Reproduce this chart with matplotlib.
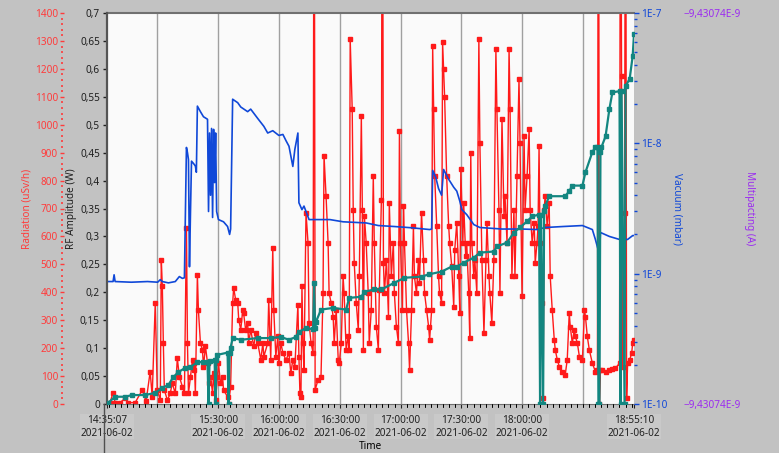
import numpy as np
import pandas as pd
import matplotlib
matplotlib.use('Agg')
import matplotlib.pyplot as plt
import matplotlib.dates as mdates
from matplotlib.ticker import FixedLocator, MultipleLocator, FuncFormatter, LogLocator, NullFormatter

plt.rcParams['font.family'] = ['Noto Sans', 'DejaVu Sans']
plt.rcParams['font.size'] = 7.2

start = pd.Timestamp('2021-06-02 14:35:07')
end = pd.Timestamp('2021-06-02 18:55:10')

# (minutes since start, uSv/h); values above 1400 run off the scale
radiation = [
    (0.0, 0), (1.5, 5), (3.0, 41), (4.0, 5), (6.4, 5), (8.9, 20), (10.4, 5), (13.9, 5), (17.4, 50), (19.3, 10),
    (21.3, 116), (22.3, 26), (23.8, 362), (24.8, 50), (26.3, 14), (26.8, 517), (27.3, 421), (27.8, 218), (28.3, 50), (29.8, 14),
    (31.2, 38), (32.2, 74), (33.7, 38), (34.7, 164), (35.7, 98), (37.2, 62), (38.2, 38), (39.2, 631), (39.7, 218), (40.2, 38),
    (41.2, 98), (42.2, 158), (42.7, 122), (43.1, 146), (43.6, 38), (44.6, 463), (45.1, 337), (46.1, 218), (47.1, 194), (47.6, 134),
    (48.6, 206), (49.6, 146), (50.1, 74), (51.1, 98), (52.1, 38), (52.6, 110), (53.6, 14), (54.5, 98), (55.0, 146), (56.0, 74),
    (57.0, 98), (57.5, 50), (59.5, 26), (60.0, 0), (61.0, 62), (62.0, 362), (62.5, 415), (63.5, 373), (64.5, 362), (65.0, 302),
    (66.0, 266), (67.0, 337), (67.4, 326), (68.4, 266), (69.4, 290), (69.9, 218), (70.9, 266), (72.4, 206), (73.4, 254), (74.4, 218),
    (75.9, 158), (76.9, 218), (77.4, 170), (79.3, 218), (79.8, 373), (80.8, 158), (81.8, 559), (82.3, 337), (83.3, 170), (84.3, 242),
    (84.8, 146), (85.8, 218), (86.8, 182), (88.3, 158), (89.8, 182), (90.7, 110), (91.7, 158), (92.7, 134), (94.2, 355), (94.7, 170),
    (95.2, 38), (95.7, 26), (96.2, 421), (96.7, 218), (97.2, 122), (98.2, 685), (99.2, 577), (99.7, 290), (100.7, 218), (101.7, 182),
    (102.2, 2500), (102.7, 50), (104.1, 86), (105.6, 98), (106.6, 397), (107.1, 888), (108.1, 744), (109.1, 577), (109.6, 397), (110.6, 362),
    (111.6, 313), (112.1, 218), (113.1, 337), (114.1, 158), (114.6, 146), (115.6, 218), (116.5, 457), (117.0, 397), (118.0, 194), (119.0, 242),
    (119.5, 194), (120.0, 1307), (121.0, 1055), (121.5, 696), (122.0, 505), (123.0, 362), (124.0, 266), (124.5, 457), (125.5, 1031), (126.0, 696),
    (126.5, 194), (127.0, 672), (127.9, 577), (128.9, 397), (129.4, 218), (130.4, 337), (131.4, 816), (131.9, 577), (132.9, 277), (133.9, 194),
    (134.4, 409), (135.4, 732), (135.9, 2500), (136.4, 505), (136.9, 397), (137.9, 517), (138.9, 313), (139.3, 720), (140.3, 457), (141.3, 577),
    (141.8, 397), (142.8, 277), (143.8, 218), (144.3, 978), (144.8, 577), (145.8, 337), (146.3, 708), (146.8, 577), (147.8, 337), (148.8, 218),
    (149.3, 122), (150.3, 337), (151.2, 637), (151.7, 457), (152.7, 397), (153.7, 517), (154.2, 433), (155.2, 685), (156.2, 517), (156.7, 397),
    (157.7, 337), (158.7, 277), (159.2, 230), (160.2, 337), (160.7, 1283), (161.2, 1055), (161.7, 816), (162.7, 637), (163.6, 457), (164.1, 397),
    (165.1, 362), (165.6, 1295), (166.1, 1199), (166.6, 1100), (167.6, 816), (168.6, 637), (169.1, 577), (170.1, 493), (171.1, 349), (171.6, 553),
    (172.6, 649), (173.6, 457), (174.1, 326), (174.6, 840), (175.6, 577), (176.0, 720), (177.0, 529), (177.5, 577), (178.5, 397), (179.0, 236),
    (179.5, 900), (180.0, 577), (181.0, 457), (181.5, 517), (182.5, 397), (183.5, 1307), (184.0, 936), (185.0, 517), (186.0, 254), (187.0, 517),
    (187.5, 649), (188.5, 457), (188.9, 397), (189.9, 290), (190.9, 517), (191.9, 1271), (192.4, 1055), (193.4, 696), (193.9, 397), (194.9, 1020),
    (195.9, 672), (196.4, 744), (197.4, 577), (198.4, 1271), (198.9, 1055), (199.8, 457), (200.8, 696), (201.3, 457), (202.3, 816), (203.3, 1163),
    (203.8, 936), (204.8, 385), (205.8, 960), (206.3, 696), (207.3, 816), (208.3, 984), (208.8, 696), (209.8, 577), (210.8, 649), (211.3, 505),
    (212.2, 577), (212.7, 637), (213.2, 924), (213.7, 577), (214.7, 362), (215.2, 20), (215.7, 696), (216.2, 744), (217.2, 637), (218.2, 720),
    (218.7, 457), (219.7, 337), (220.7, 230), (221.2, 194), (222.2, 158), (223.2, 134), (224.7, 116), (226.1, 104), (227.1, 158), (228.1, 326),
    (228.6, 277), (229.6, 218), (230.6, 266), (231.1, 242), (232.1, 218), (233.1, 170), (234.6, 158), (235.6, 337), (236.1, 313), (237.0, 242),
    (238.0, 194), (239.5, 146), (241.0, 116), (242.0, 122), (242.5, 2500), (243.0, 0), (243.5, 122), (244.5, 122), (246.0, 116), (247.9, 122),
    (249.4, 125), (250.9, 128), (252.9, 146), (253.4, 2500), (253.9, 1175), (254.4, 134), (255.4, 685), (255.9, 2500), (256.4, 20), (256.9, 146),
    (257.9, 158), (258.9, 182), (259.4, 218), (260.0, 230),
]

# (minutes since start, W)
rf_amplitude = [
    (0.0, 0.0), (0.5, 0.002), (4.0, 0.013), (8.9, 0.013), (12.4, 0.016), (18.8, 0.016), (23.8, 0.020), (27.3, 0.029),
    (30.3, 0.034), (32.7, 0.048), (35.2, 0.057), (38.7, 0.065), (41.2, 0.066), (44.6, 0.075), (47.6, 0.075), (49.6, 0.075),
    (50.1, 0.0), (50.6, 0.077), (53.1, 0.079), (53.6, 0.0), (54.0, 0.079), (54.5, 0.088), (59.5, 0.092), (60.0, 0.0),
    (60.5, 0.092), (61.0, 0.101), (62.0, 0.118), (66.0, 0.115), (74.4, 0.118), (80.8, 0.118), (85.8, 0.120), (89.8, 0.115),
    (93.2, 0.120), (94.7, 0.129), (98.2, 0.136), (101.7, 0.134), (102.2, 0.217), (102.7, 0.136), (103.1, 0.147), (105.6, 0.169),
    (111.6, 0.172), (118.0, 0.169), (119.5, 0.190), (125.5, 0.192), (127.0, 0.201), (131.9, 0.205), (135.4, 0.205), (141.8, 0.217),
    (146.8, 0.226), (155.2, 0.228), (158.7, 0.232), (165.1, 0.237), (170.1, 0.246), (172.6, 0.246), (176.0, 0.253), (181.0, 0.262),
    (184.0, 0.271), (190.9, 0.273), (192.4, 0.282), (197.4, 0.289), (200.8, 0.307), (203.8, 0.316), (207.3, 0.327), (209.8, 0.336),
    (213.2, 0.339), (213.7, 0.0), (214.2, 0.339), (215.2, 0.0), (215.7, 0.345), (216.2, 0.354), (218.2, 0.372), (226.1, 0.372),
    (228.1, 0.381), (229.6, 0.391), (234.6, 0.391), (236.1, 0.415), (239.5, 0.451), (241.0, 0.460), (242.0, 0.460), (242.5, 0.0),
    (243.0, 0.0), (243.5, 0.451), (244.0, 0.460), (246.0, 0.479), (247.9, 0.528), (249.4, 0.558), (252.9, 0.560), (253.4, 0.0),
    (253.9, 0.560), (255.4, 0.0), (255.9, 0.569), (257.9, 0.582), (259.4, 0.623), (260.05, 0.662),
]

# (minutes since start, mbar)
vacuum = [
    (0.0, 8.7e-10), (3.0, 8.7e-10), (3.5, 9.8e-10), (4.0, 8.7e-10), (12.0, 8.6e-10), (20.0, 8.7e-10), (25.0, 8.6e-10),
    (26.3, 9.0e-10), (27.3, 8.7e-10), (30.3, 8.5e-10), (33.7, 8.7e-10), (35.7, 9.5e-10), (37.2, 9.2e-10), (38.2, 9.3e-10),
    (38.7, 3.0e-9), (39.2, 9.3e-9), (39.7, 8.5e-9), (40.2, 7.5e-9), (40.7, 1.13e-9), (41.2, 3.0e-9), (41.7, 7.3e-9),
    (42.7, 7.0e-9), (43.6, 6.7e-9), (44.1, 6.0e-9), (44.6, 1.93e-8), (46.1, 1.75e-8), (47.6, 1.6e-8), (49.6, 1.53e-8),
    (50.1, 3.0e-9), (50.6, 1.2e-8), (51.1, 4.0e-9), (51.6, 1.3e-8), (52.1, 2.7e-9), (52.6, 1.28e-8), (53.1, 5.0e-9),
    (53.6, 1.2e-8), (54.1, 3.0e-9), (55.0, 2.6e-9), (57.5, 2.5e-9), (59.5, 2.3e-9), (60.5, 2.0e-9), (61.0, 2.2e-9),
    (62.0, 2.18e-8), (64.5, 2.05e-8), (66.0, 1.9e-8), (69.4, 1.75e-8), (70.9, 1.83e-8), (74.4, 1.55e-8), (77.4, 1.35e-8),
    (79.3, 1.2e-8), (81.8, 1.25e-8), (84.8, 1.15e-8), (86.8, 1.17e-8), (88.3, 1.05e-8), (89.8, 9.5e-9), (91.7, 6.65e-9),
    (92.7, 9.0e-9), (94.2, 1.2e-8), (94.7, 3.5e-9), (96.2, 3.1e-9), (97.2, 3.3e-9), (99.7, 2.6e-9), (110.0, 2.6e-9),
    (116.5, 2.5e-9), (127.9, 2.45e-9), (133.9, 2.34e-9), (141.8, 2.3e-9), (150.3, 2.25e-9), (159.2, 2.18e-9), (160.2, 2.2e-9),
    (160.7, 6.2e-9), (162.2, 5.5e-9), (163.6, 4.5e-9), (165.1, 4.0e-9), (166.1, 6.3e-9), (168.6, 5.3e-9), (171.1, 4.6e-9),
    (172.6, 4.3e-9), (174.1, 3.6e-9), (175.1, 3.1e-9), (177.5, 2.84e-9), (181.0, 2.38e-9), (184.0, 2.26e-9), (195.0, 2.2e-9),
    (205.0, 2.2e-9), (212.2, 2.18e-9), (216.2, 2.26e-9), (225.0, 2.3e-9), (234.6, 2.34e-9), (239.5, 2.18e-9), (241.0, 1.83e-9),
    (243.0, 1.4e-9), (243.5, 2.07e-9), (247.9, 1.93e-9), (252.9, 1.83e-9), (256.9, 1.83e-9), (259.4, 1.96e-9), (260.05, 1.96e-9),
]

multipacting_value = -9.43074e-9

label_times = [start] + list(pd.date_range('2021-06-02 15:30', '2021-06-02 18:00', freq='30min')) + [end]
grid_times = pd.date_range('2021-06-02 15:00', '2021-06-02 18:30', freq='30min')


def to_times(points):
    mins = np.array([p[0] for p in points])
    vals = np.array([p[1] for p in points])
    return (start + pd.to_timedelta(mins, unit='min')).to_numpy(), vals


BG = '#c2c2c2'
RED = '#ff1a1a'
RED_TXT = '#ff3b3b'
BLUE = '#1048d8'
TEAL = '#138680'
PURPLE = '#9b2cf0'
PX = 0.72  # points per pixel at 100 dpi

fig = plt.figure(figsize=(7.79, 4.53), dpi=100, facecolor=BG)
rect = [107 / 779, 1 - 404 / 453, 527 / 779, 391 / 453]

ax_rad = fig.add_axes(rect, facecolor='#fafafa')
ax_vac = fig.add_axes(rect, sharex=ax_rad, facecolor='none')
ax_mp = fig.add_axes(rect, sharex=ax_rad, facecolor='none')
ax_rf = fig.add_axes(rect, sharex=ax_rad, facecolor='none')

# grid lines every half hour
for gt in grid_times:
    ax_rad.axvline(gt, color='#a0a0a0', lw=1.0, zorder=0)

# radiation
t, v = to_times(radiation)
ax_rad.plot(t, v, color=RED, lw=1.0, marker='s', ms=2.2, mec=RED, mfc=RED, zorder=2)
ax_rad.set_ylim(0, 1400)
ax_rad.spines['left'].set_position(('outward', 45 * PX))
ax_rad.spines['left'].set_visible(False)
ax_rad.spines['right'].set_visible(False)
ax_rad.spines['top'].set_color('#707070')
ax_rad.spines['top'].set_linewidth(1.5)
ax_rad.spines['bottom'].set_color('#707070')
ax_rad.yaxis.set_major_locator(MultipleLocator(100))
ax_rad.yaxis.set_minor_locator(MultipleLocator(20))
ax_rad.tick_params(axis='y', which='major', colors=RED_TXT, direction='inout', length=5 * PX, width=1, pad=1.5 * PX)
ax_rad.tick_params(axis='y', which='minor', colors=RED_TXT, direction='inout', length=1.2, width=1.2)
ax_rad.set_ylabel('Radiation (uSv/h)', color=RED_TXT)
ax_rad.yaxis.set_label_coords(-0.142, 0.5)

ax_rad.set_xlim(start, end)
ax_rad.xaxis.set_major_locator(FixedLocator(mdates.date2num(label_times)))
ax_rad.xaxis.set_major_formatter(mdates.DateFormatter('%H:%M:%S\n%Y-%m-%d'))
ax_rad.xaxis.set_minor_locator(mdates.MinuteLocator(byminute=range(0, 60, 3)))
ax_rad.tick_params(axis='x', which='major', colors='#202020', length=4 * PX, pad=5)
ax_rad.tick_params(axis='x', which='minor', colors='#303030', length=3 * PX)
ax_rad.set_xlabel('Time', labelpad=2)

# vacuum
t, v = to_times(vacuum)
ax_vac.plot(t, v, color=BLUE, lw=1.2, zorder=3)
ax_vac.set_yscale('log')
ax_vac.set_ylim(1e-10, 1e-7)
for s in ['left', 'top', 'bottom', 'right']:
    ax_vac.spines[s].set_visible(False)
ax_vac.yaxis.tick_right()
ax_vac.yaxis.set_label_position('right')
ax_vac.yaxis.set_major_locator(LogLocator(base=10))
ax_vac.yaxis.set_minor_locator(LogLocator(base=10, subs=np.arange(2, 10)))
ax_vac.yaxis.set_minor_formatter(NullFormatter())
ax_vac.yaxis.set_major_formatter(FuncFormatter(lambda val, pos: f"1E{int(round(np.log10(val)))}"))
ax_vac.tick_params(axis='y', which='major', colors=BLUE, length=5 * PX, width=1, pad=2 * PX)
ax_vac.tick_params(axis='y', which='minor', colors=BLUE, length=3 * PX, width=1)
ax_vac.tick_params(axis='x', bottom=False, labelbottom=False)
ax_vac.set_ylabel('Vacuum (mbar)', color=BLUE, rotation=270, va='bottom')
ax_vac.yaxis.set_label_coords(1.072, 0.5)

# multipacting scale (constant signal)
ax_mp.set_ylim(0, 1)
for s in ['left', 'top', 'bottom', 'right']:
    ax_mp.spines[s].set_visible(False)
ax_mp.yaxis.tick_right()
ax_mp.yaxis.set_label_position('right')
ax_mp.spines['right'].set_position(('outward', 46 * PX))
ax_mp.yaxis.set_major_locator(FixedLocator([0, 1]))
mp_text = f"{multipacting_value:.5E}".replace('.', ',').replace('E-0', 'E-').replace('-', '\u2212', 1)
ax_mp.yaxis.set_major_formatter(FuncFormatter(lambda val, pos: mp_text))
ax_mp.tick_params(axis='y', colors=PURPLE, length=0, pad=4 * PX)
ax_mp.tick_params(axis='x', bottom=False, labelbottom=False)
ax_mp.set_ylabel('Multipacting (A)', color=PURPLE, rotation=270, va='bottom')
ax_mp.yaxis.set_label_coords(1.208, 0.5)

# RF amplitude
t, v = to_times(rf_amplitude)
ax_rf.plot(t, v, color=TEAL, lw=1.6, marker='s', ms=3, mec=TEAL, mfc=TEAL, zorder=4)
ax_rf.set_ylim(0, 0.7)
for s in ['top', 'bottom', 'right']:
    ax_rf.spines[s].set_visible(False)
ax_rf.spines['left'].set_color('#555555')
ax_rf.spines['left'].set_linewidth(1.6)
ax_rf.yaxis.set_major_locator(MultipleLocator(0.05))
ax_rf.yaxis.set_major_formatter(FuncFormatter(lambda val, pos: f"{round(val, 2):g}".replace('.', ',')))
ax_rf.tick_params(axis='y', colors='#202020', length=4 * PX, width=1, pad=3 * PX)
ax_rf.tick_params(axis='x', bottom=False, labelbottom=False)
ax_rf.set_ylabel('RF Amplitude (W)', color='#202020')
ax_rf.yaxis.set_label_coords(-0.057, 0.5)

# scale line under the plot, as in the instrument panel
fig.add_artist(plt.Line2D([104 / 779, 104 / 779], [0, rect[1]], color='#505050', lw=1))

fig.canvas.draw()
for lbl in ax_rad.get_xticklabels():
    lbl.set_bbox(dict(facecolor='#c9c9c9', edgecolor='none', pad=0.5))

fig.savefig('out.png', dpi=100, facecolor=BG)
